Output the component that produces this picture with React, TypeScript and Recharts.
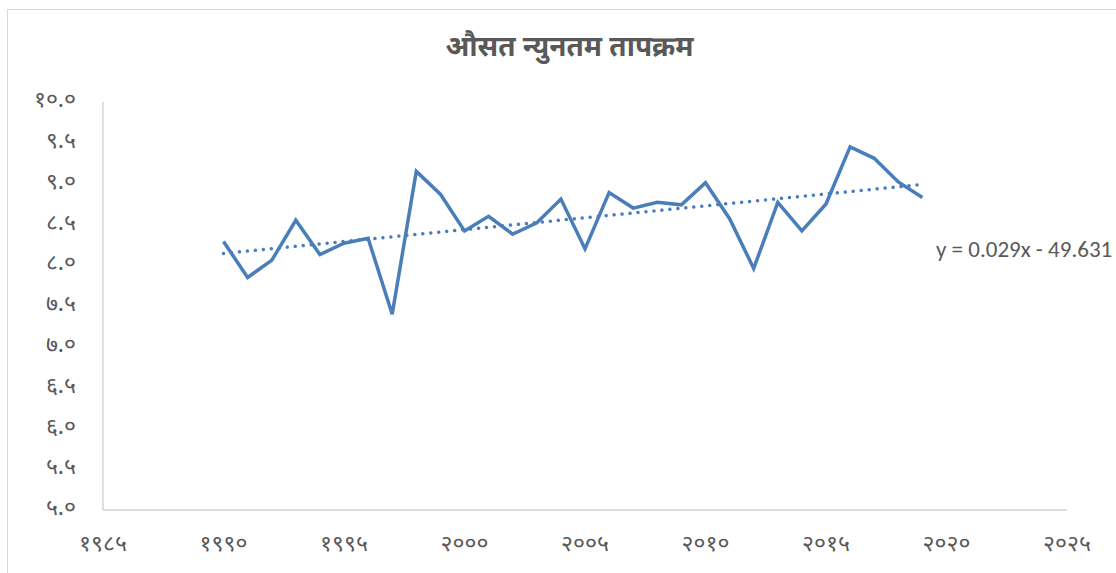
import React from "react";
import { LineChart, Line, XAxis, YAxis } from "recharts";

// observed annual mean minimum temperature
const years = [
  1990, 1991, 1992, 1993, 1994, 1995, 1996, 1997, 1998, 1999,
  2000, 2001, 2002, 2003, 2004, 2005, 2006, 2007, 2008, 2009,
  2010, 2011, 2012, 2013, 2014, 2015, 2016, 2017, 2018, 2019,
];
const minTemp = [
  8.29, 7.85, 8.06, 8.55, 8.13, 8.27, 8.33, 7.40, 9.15, 8.87,
  8.42, 8.60, 8.38, 8.52, 8.81, 8.20, 8.89, 8.70, 8.77, 8.74,
  9.01, 8.57, 7.96, 8.77, 8.42, 8.75, 9.45, 9.31, 9.02, 8.83,
];
const xTicks = [1985, 1990, 1995, 2000, 2005, 2010, 2015, 2020, 2025];
const yTicks = [5, 5.5, 6, 6.5, 7, 7.5, 8, 8.5, 9, 9.5, 10];
const chartTitle = "औसत न्युनतम तापक्रम";
const trendLabel = "y = 0.029x - 49.631";

const DEV_DIGITS = "०१२३४५६७८९";
const toDev = (s: string) => s.replace(/[0-9]/g, (d) => DEV_DIGITS[Number(d)]);

// linear trend (least squares) over the series
const n = years.length;
const meanX = years.reduce((a, b) => a + b, 0) / n;
const meanY = minTemp.reduce((a, b) => a + b, 0) / n;
let sxy = 0;
let sxx = 0;
years.forEach((x, i) => {
  sxy += (x - meanX) * (minTemp[i] - meanY);
  sxx += (x - meanX) * (x - meanX);
});
const slope = sxy / sxx;
const intercept = meanY - slope * meanX;

const data = years.map((year, i) => ({
  year,
  temp: minTemp[i],
  trend: slope * year + intercept,
}));

const BLUE = "#4a7ebb";
const TEXT = "#595959";
const DEV_FONT = "'Noto Sans Devanagari', 'Lohit Devanagari', 'FreeSans', 'Noto Sans', sans-serif";

export default function App() {
  return (
    <div
      style={{
        position: "fixed",
        left: 7,
        top: 9,
        width: 1115,
        height: 570,
        border: "1px solid #d9d9d9",
        background: "#fff",
      }}
    >
      <div
        style={{
          position: "absolute",
          left: 8,
          top: 21,
          width: 1107,
          textAlign: "center",
          fontFamily: DEV_FONT,
          fontWeight: "bold",
          fontSize: 28,
          lineHeight: "36px",
          color: TEXT,
        }}
      >
        {chartTitle}
      </div>
      <div
        style={{
          position: "absolute",
          left: 928,
          top: 226,
          fontFamily: "Carlito, 'Open Sans', 'Liberation Sans', sans-serif",
          fontSize: 23,
          lineHeight: "26px",
          color: TEXT,
          whiteSpace: "nowrap",
        }}
      >
        {trendLabel}
      </div>
      <LineChart
        width={1107}
        height={560}
        data={data}
        margin={{ top: 92, right: 48, bottom: 20, left: 15 }}
      >
        <XAxis
          dataKey="year"
          type="number"
          domain={[1985, 2025]}
          ticks={xTicks}
          interval={0}
          tickFormatter={(v) => toDev(String(v))}
          stroke="#bfbfbf"
          tickLine={false}
          tickSize={0}
          tickMargin={25}
          height={40}
          tick={{ fill: TEXT, fontSize: 23, fontFamily: DEV_FONT }}
        />
        <YAxis
          type="number"
          domain={[5, 10]}
          ticks={yTicks}
          interval={0}
          tickFormatter={(v) => toDev(Number(v).toFixed(1))}
          stroke="#bfbfbf"
          tickLine={false}
          tickSize={0}
          tickMargin={27}
          width={80}
          tick={{ fill: TEXT, fontSize: 23, fontFamily: DEV_FONT, dy: -3 }}
        />
        <Line
          type="linear"
          dataKey="trend"
          stroke={BLUE}
          strokeWidth={3.5}
          strokeDasharray="0.01 8"
          strokeLinecap="round"
          dot={false}
          activeDot={false}
          isAnimationActive={false}
        />
        <Line
          type="linear"
          dataKey="temp"
          stroke={BLUE}
          strokeWidth={3.5}
          dot={false}
          activeDot={false}
          isAnimationActive={false}
        />
      </LineChart>
    </div>
  );
}
